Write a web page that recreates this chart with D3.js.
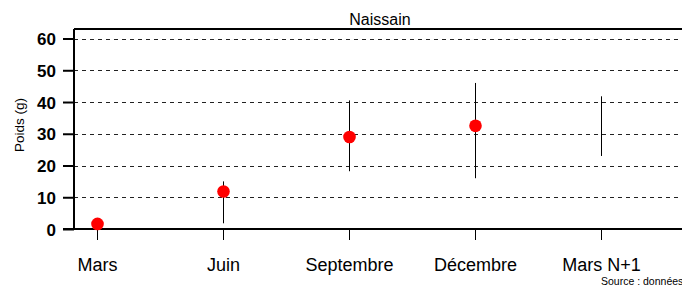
<!DOCTYPE html>
<html>
<head>
<meta charset="utf-8">
<script src="https://cdn.jsdelivr.net/npm/d3@7"></script>
<style>
  body { margin: 0; background: #fff; }
  svg { display: block; font-family: "Liberation Sans", Arial, sans-serif; }
</style>
</head>
<body>
<svg id="chart" width="682" height="287"></svg>
<script>
// Naissain weight per sampling date
const months = ["Mars", "Juin", "Septembre", "Décembre", "Mars N+1"];
const means  = [1.6, 11.8, 29, 32.5, null];
const lows   = [0, 1.8, 18.2, 16, 23];
const highs  = [3, 15, 40.5, 46, 41.8];
const yTicks = [0, 10, 20, 30, 40, 50, 60];

const W = 682, H = 287;
const plotLeft = 74, plotTop = 29, plotBottom = 229;

const svg = d3.select("#chart");

const x = d3.scalePoint().domain(months).range([97, 601]);
const y = d3.scaleLinear().domain([0, 63]).range([plotBottom, plotTop]);

// dashed grid
svg.append("g")
  .selectAll("line")
  .data(yTicks.filter(d => d > 0))
  .join("line")
    .attr("x1", plotLeft).attr("x2", W)
    .attr("y1", d => Math.round(y(d)) + 0.5)
    .attr("y2", d => Math.round(y(d)) + 0.5)
    .attr("stroke", "#222")
    .attr("stroke-dasharray", "4,4");

// frame lines
svg.append("line").attr("x1", plotLeft).attr("x2", W).attr("y1", plotTop).attr("y2", plotTop)
  .attr("stroke", "#000").attr("stroke-width", 2);
svg.append("line").attr("x1", 63).attr("x2", W).attr("y1", plotBottom).attr("y2", plotBottom)
  .attr("stroke", "#000").attr("stroke-width", 2);

// y axis
const yAxis = svg.append("g")
  .attr("transform", `translate(${plotLeft},0)`)
  .call(d3.axisLeft(y).tickValues(yTicks).tickSize(11).tickPadding(7));
yAxis.select(".domain").attr("stroke-width", 2).attr("d", `M0,${plotTop}V${plotBottom}`);
yAxis.selectAll(".tick line").attr("stroke-width", 2);
yAxis.selectAll("text")
  .style("font-family", "'Liberation Sans', Arial, sans-serif")
  .style("font-size", "17px").style("font-weight", "bold").attr("dy", "0.36em");

// x axis
const xAxis = svg.append("g")
  .attr("transform", `translate(0,${plotBottom})`)
  .call(d3.axisBottom(x).tickSize(11));
xAxis.select(".domain").remove();
xAxis.selectAll("text")
  .attr("y", 41.5).attr("dy", 0)
  .style("font-family", "'Liberation Sans', Arial, sans-serif")
  .style("font-size", "18px");

// error bars
svg.append("g")
  .selectAll("line")
  .data(months)
  .join("line")
    .attr("x1", d => Math.round(x(d)) + 0.5).attr("x2", d => Math.round(x(d)) + 0.5)
    .attr("y1", (d, i) => y(lows[i]))
    .attr("y2", (d, i) => y(highs[i]))
    .attr("stroke", "#000");

// mean points
svg.append("g")
  .selectAll("circle")
  .data(months.filter((d, i) => means[i] !== null))
  .join("circle")
    .attr("cx", d => x(d) + 0.5)
    .attr("cy", d => y(means[months.indexOf(d)]))
    .attr("r", 6.3)
    .attr("fill", "#ff0000");

// title
svg.append("text")
  .attr("x", 380).attr("y", 25)
  .attr("text-anchor", "middle")
  .style("font-size", "16px")
  .text("Naissain");

// y label
svg.append("text")
  .attr("transform", `translate(24,125) rotate(-90)`)
  .attr("text-anchor", "middle")
  .style("font-size", "13.5px")
  .text("Poids (g)");

// source
svg.append("text")
  .attr("x", 601).attr("y", 285)
  .style("font-size", "10.5px")
  .text("Source : données");
</script>
</body>
</html>
